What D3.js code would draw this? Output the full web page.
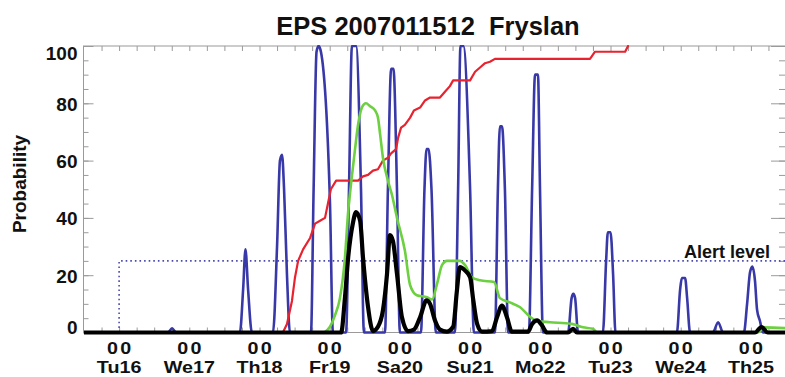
<!DOCTYPE html>
<html><head><meta charset="utf-8">
<script src="https://cdn.jsdelivr.net/npm/d3@7"></script>
<style>
body{margin:0;background:#fff}
svg{display:block;font-family:"Liberation Sans",Arial,Helvetica,sans-serif;font-weight:bold}
</style>
</head><body>
<svg id="chart" width="785" height="377"></svg>
<script>
// ---------- data ----------
const titleText = "EPS 2007011512\u00A0\u00A0Fryslan";
const yLabel = "Probability";
const yTicks = [0, 20, 40, 60, 80, 100];
const dayTickHours = [12, 36, 60, 84, 108, 132, 156, 180, 204, 228];
const dayLabels = ["Tu16", "We17", "Th18", "Fr19", "Sa20", "Su21", "Mo22", "Tu23", "We24", "Th25"];
const hourLabel = "00";
const alertLevel = 25;
const alertStartHour = 12;
const alertText = "Alert level";

// hours since Mo15 12 UTC
const blueHours = [0,28.7,30.1,31.5,53.3,54.4,55.2,56.1,57.4,64.6,66.0,67.0,67.7,68.4,69.4,70.4,77.6,78.5,79.5,80.2,81.0,84.1,85.1,89.6,90.6,91.6,93.0,94.7,95.7,102.9,103.9,105.0,105.8,107.0,108.0,115.2,116.4,117.1,117.8,118.8,120.3,126.8,127.9,128.7,129.7,132.0,133.3,140.5,141.5,142.2,142.9,143.9,145.0,152.1,153.2,154.2,155.2,155.9,156.9,165.5,166.7,167.3,167.9,168.9,177.4,178.5,179.1,180.0,180.9,181.7,202.7,203.8,204.4,205.5,206.2,207.2,215.0,216.8,218.5,225.6,226.7,227.7,228.5,229.4,230.1,231.1,232.1,240];
const blueValues = [0,0,1.5,0,0,15,29,15,0,0,30,60,62,50,20,0,0,50,98,100,98,45,0,0,50,100,100,50,0,0,50,92,92,50,0,0,50,64,64,50,0,0,50,100,100,50,0,0,50,72,72,50,0,0,50,90,90,50,0,0,12,13.5,12,0,0,25,35,35,20,0,0,15,19,19,12,0,0,3.6,0,0,10,21,23,18,8,4,0,0];

const redHours = [68.0,69.4,71.1,72.1,73.2,74.9,77.3,79.0,80.7,82.4,83.4,84.4,86.2,93.7,95.4,97.1,98.8,100.5,102.2,103.9,105.0,106.7,107.4,108.4,109.7,111.5,112.8,114.9,116.6,118.3,121.7,123.4,125.1,126.2,132.0,133.7,135.4,137.1,138.8,140.5,173.0,174.7,185.0,186.0];
const redValues = [0,3,11,19,25,29,33,38,39,40,45,50,53,53,54.5,55,56.5,57,60,61,62.5,64,68,71.5,72.5,75,77.5,78.5,81,82,82,84,86,88,88,91,92.5,94,94.5,95.5,95.5,98,98,100];

const greenHours = [82.1,84.1,85.8,87.5,89.2,90.3,91.3,92.6,93.7,95.0,96.4,97.8,99.5,100.5,101.2,102.2,103.9,105.3,107.0,109.7,111.5,113.8,117.3,119.0,120.7,122.4,124.1,128.5,130.3,132.6,135.4,140.2,142.2,145.6,149.1,152.5,154.9,159.3,166.8,170.6,174.0,175.4,230.4,232.5,240];
const greenValues = [0,2,6,12,26,42,52,63.5,72.5,78.5,80,79,77.5,75,69.5,61,53,48,40,28.6,16.5,13,12.3,11.5,17,23.5,25,25,23.5,19.3,18.2,17.6,12,10.5,8.8,5.5,4,3.6,3,1.8,1.3,0,0,1.8,1.5];

const blackHours = [0,87.9,89.2,90.3,91.9,93.0,94.4,95.4,97.1,98.8,100.5,102.2,103.6,104.6,105.6,107.0,108.7,110.8,112.8,114.9,117.1,118.3,120.0,121.7,124.0,126.2,127.5,128.5,130.3,132.0,133.1,134.4,136.1,139.5,141.2,142.9,144.6,146.3,151.8,153.2,154.9,156.6,158.3,165.5,167.2,168.5,229.4,231.6,233.8,240];
const blackValues = [0,0,12,26,38,42,39,26,9,0.5,2,7.7,20.5,34,32,20.5,5.3,0.5,1,5.3,11.2,10,4.2,1,0.3,2,14.7,22.8,21.6,19.3,11.2,3,0.3,0.5,5.3,9.4,5.3,0.3,0.3,3,4.2,2.4,0,0,1.3,0,0,1.9,0,0];

// ---------- layout ----------
const L = 84, R = 786, T = 46, B = 332.5;
const svg = d3.select("#chart");
const x = d3.scaleLinear().domain([0, 240]).range([L, R]);
const y = d3.scaleLinear().domain([0, 100]).range([B, T]);
const frameColor = "#9a9a9a";

svg.append("defs").append("clipPath").attr("id", "clip")
  .append("rect").attr("x", L).attr("y", T - 1).attr("width", R - L).attr("height", B - T + 4);

// frame
svg.append("rect").attr("x", L - 0.5).attr("y", T).attr("width", R - L).attr("height", B - T)
  .attr("fill", "none").attr("stroke", frameColor).attr("stroke-width", 1);

function styleAxis(g) {
  g.select(".domain").remove();
  g.selectAll(".tick line").attr("stroke", frameColor).attr("stroke-width", 1);
}

// left axis: minor + major
svg.append("g").attr("transform", `translate(${L - 0.5},0)`)
  .call(d3.axisLeft(y).tickValues(d3.range(0, 101, 5)).tickSize(-5).tickFormat(""))
  .call(styleAxis);
const leftMajor = svg.append("g").attr("transform", `translate(${L - 0.5},0)`)
  .call(d3.axisLeft(y).tickValues(yTicks).tickSize(-10).tickPadding(6))
  .call(styleAxis);
leftMajor.selectAll(".tick text")
  .attr("fill", "#111").attr("font-size", "19px").attr("font-weight", "bold")
  .attr("font-family", "Liberation Sans, Arial, sans-serif")
  .attr("dy", d => d === 100 ? "0.72em" : d === 0 ? "0.05em" : "0.36em");

// right axis (ticks pointing inward)
svg.append("g").attr("transform", `translate(${R - 1},0)`)
  .call(d3.axisRight(y).tickValues(d3.range(0, 101, 5)).tickSize(-6).tickFormat(""))
  .call(styleAxis);
svg.append("g").attr("transform", `translate(${R - 1},0)`)
  .call(d3.axisRight(y).tickValues(yTicks).tickSize(-14).tickFormat(""))
  .call(styleAxis);

// top & bottom 6-hourly ticks
svg.append("g").attr("transform", `translate(0,${T})`)
  .call(d3.axisTop(x).tickValues(d3.range(6, 240, 6)).tickSize(-5).tickFormat(""))
  .call(styleAxis);
svg.append("g").attr("transform", `translate(0,${B})`)
  .call(d3.axisBottom(x).tickValues(d3.range(6, 240, 6)).tickSize(-5).tickFormat(""))
  .call(styleAxis);

// x labels
const xl = svg.append("g").attr("font-size", "17px").attr("fill", "#111").attr("text-anchor", "middle");
dayTickHours.forEach((h, i) => {
  const g = xl.append("g").attr("transform", `translate(${x(h)},0) scale(1.16,1)`);
  g.append("text").attr("x", 1).attr("y", 354).attr("letter-spacing", "2px").text(hourLabel);
  g.append("text").attr("y", 373).text(dayLabels[i]);
});

// y label
svg.append("text").attr("transform", "translate(26,184) rotate(-90)")
  .attr("text-anchor", "middle").attr("font-size", "19px").attr("fill", "#111").text(yLabel);

// title
svg.append("text").attr("x", 428).attr("y", 35).attr("text-anchor", "middle")
  .attr("font-size", "25.5px").attr("fill", "#111").text(titleText);

// alert level
const alertPath = d3.path();
alertPath.moveTo(x(alertStartHour), y(0));
alertPath.lineTo(x(alertStartHour), y(alertLevel));
alertPath.lineTo(x(240), y(alertLevel));
svg.append("path").attr("d", alertPath.toString()).attr("fill", "none")
  .attr("stroke", "#4a4ab0").attr("stroke-width", 1.6).attr("stroke-dasharray", "1.6,3");
svg.append("text").attr("x", 770).attr("y", 258).attr("text-anchor", "end")
  .attr("font-size", "18px").attr("fill", "#111").text(alertText);

// series
const plot = svg.append("g").attr("clip-path", "url(#clip)");
function series(hours, values, color, width, curve) {
  const pts = hours.map((h, i) => [h, values[i]]);
  const line = d3.line().x(d => x(d[0])).y(d => y(d[1])).curve(curve);
  plot.append("path").datum(pts).attr("d", line).attr("fill", "none")
    .attr("stroke", color).attr("stroke-width", width)
    .attr("stroke-linejoin", "round").attr("stroke-linecap", "round");
}
series(blueHours, blueValues, "#3838a8", 2.6, d3.curveMonotoneX);
series(redHours, redValues, "#e8222e", 2.2, d3.curveLinear);
series(greenHours, greenValues, "#6cd040", 2.6, d3.curveMonotoneX);
series(blackHours, blackValues, "#000000", 4.2, d3.curveMonotoneX);
</script>
</body></html>
